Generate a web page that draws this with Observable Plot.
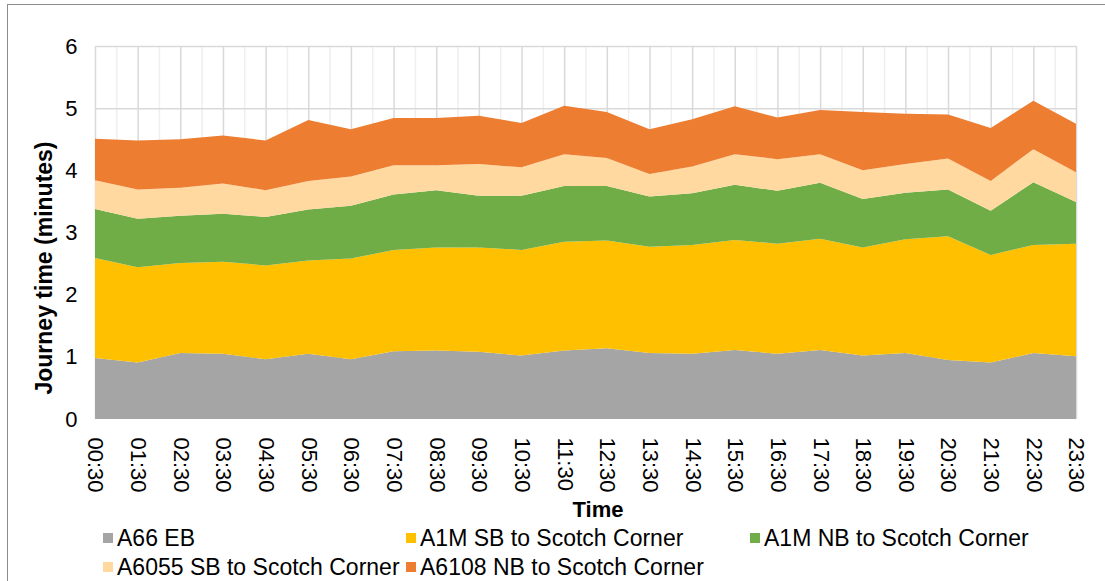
<!DOCTYPE html>
<html>
<head>
<meta charset="utf-8">
<script src="https://cdn.jsdelivr.net/npm/d3@7"></script>
<script src="https://cdn.jsdelivr.net/npm/@observablehq/plot@0.6"></script>
<style>
  html, body { margin: 0; padding: 0; background: #fff; }
  #wrap { position: relative; width: 1105px; height: 581px; overflow: hidden; font-family: "Liberation Sans", Arial, sans-serif; }
  #border { position: absolute; left: 7px; top: 4px; width: 1200px; height: 700px; border-left: 1px solid #8c8c8c; border-top: 1px solid #8c8c8c; }
  #chart { position: absolute; left: 0; top: 0; }
  #chart svg text { font-size: 22px; }
  #chart svg text.ytitle { font-size: 23px; }
  .lg { position: absolute; font-size: 23px; color: #000; white-space: nowrap; line-height: 1; }
  .lg i { position: absolute; left: 0; top: 6px; width: 10px; height: 10px; }
  .lg span { position: absolute; left: 14px; top: 0; }
</style>
</head>
<body>
<div id="wrap">
  <div id="border"></div>
  <div id="chart"></div>
  <div id="legend"></div>
</div>
<script>
const times = ["00:30","01:30","02:30","03:30","04:30","05:30","06:30","07:30","08:30","09:30","10:30","11:30",
               "12:30","13:30","14:30","15:30","16:30","17:30","18:30","19:30","20:30","21:30","22:30","23:30"];

const seriesNames = ["A66 EB", "A1M SB to Scotch Corner", "A1M NB to Scotch Corner", "A6055 SB to Scotch Corner", "A6108 NB to Scotch Corner"];
const seriesColors = ["#A5A5A5", "#FFC000", "#70AD47", "#FFD9A0", "#ED7D31"];

const a66EB      = [0.98,0.91,1.06,1.05,0.96,1.05,0.96,1.09,1.10,1.08,1.02,1.10,1.14,1.06,1.05,1.11,1.05,1.11,1.02,1.06,0.95,0.91,1.06,1.01];
const a1mSB      = [1.61,1.53,1.45,1.48,1.51,1.50,1.62,1.63,1.66,1.68,1.70,1.75,1.73,1.71,1.75,1.77,1.77,1.79,1.74,1.83,1.99,1.73,1.74,1.81];
const a1mNB      = [0.79,0.78,0.76,0.77,0.78,0.82,0.85,0.89,0.92,0.83,0.87,0.90,0.88,0.81,0.83,0.89,0.85,0.90,0.78,0.75,0.75,0.71,1.01,0.67];
const a6055SB    = [0.46,0.47,0.45,0.49,0.43,0.46,0.47,0.47,0.40,0.51,0.46,0.51,0.45,0.36,0.43,0.49,0.51,0.46,0.46,0.46,0.50,0.48,0.53,0.48];
const a6108NB    = [0.67,0.79,0.78,0.77,0.80,0.98,0.76,0.76,0.76,0.78,0.71,0.78,0.74,0.72,0.76,0.77,0.67,0.71,0.94,0.81,0.71,0.85,0.78,0.78];

const yTicks = [0,1,2,3,4,5,6];
const yTitle = "Journey time (minutes)";
const xTitle = "Time";

const seriesValues = [a66EB, a1mSB, a1mNB, a6055SB, a6108NB];
const data = [];
times.forEach((t, i) => {
  seriesNames.forEach((s, k) => data.push({i, time: t, series: s, value: seriesValues[k][i]}));
});

const idx = d3.range(times.length);
const minor = d3.range(0.5, times.length - 1, 1);

const chart = Plot.plot({
  width: 1105,
  height: 526,
  marginLeft: 95,
  marginRight: 29,
  marginTop: 46,
  marginBottom: 107,
  style: { fontFamily: "Liberation Sans, Arial, sans-serif", fontSize: "22px", color: "#000", background: "transparent", overflow: "visible" },
  x: { type: "linear", domain: [0, times.length - 1], axis: null },
  y: { domain: [0, 6], axis: null },
  color: { domain: seriesNames, range: seriesColors },
  marks: [
    Plot.gridX(minor, { stroke: "#efefef", strokeOpacity: 1, strokeWidth: 1.5 }),
    Plot.gridX(idx, { stroke: "#d9d9d9", strokeOpacity: 1, strokeWidth: 1.5 }),
    Plot.gridY(yTicks.slice(1), { stroke: "#d9d9d9", strokeOpacity: 1, strokeWidth: 1.5 }),
    Plot.areaY(data, { x: "i", y: "value", fill: "series", z: "series", order: seriesNames, curve: "linear" }),
    Plot.text(yTicks, { x: () => 0, y: d => d, text: d => String(d), frameAnchor: "left", textAnchor: "end", dx: -18, fill: "#000" }),
    Plot.text(idx, { x: d => d, y: () => 0, text: d => times[d], rotate: 90, textAnchor: "start", dy: 18, fill: "#000" }),
    Plot.text([yTitle], { frameAnchor: "left", dx: -51, dy: 35, rotate: -90, fontWeight: "bold", textAnchor: "middle", lineAnchor: "middle", className: "ytitle" }),
    Plot.text([xTitle], { frameAnchor: "bottom", dx: 12, dy: 90, fontWeight: "bold", textAnchor: "middle", lineAnchor: "middle" })
  ]
});
chart.querySelectorAll(".ytitle text").forEach(t => t.classList.add("ytitle"));
document.getElementById("chart").appendChild(chart);

const legendPos = [[103, 527], [406, 527], [750, 527], [103, 556], [406, 556]];
const legend = document.getElementById("legend");
seriesNames.forEach((s, k) => {
  const el = document.createElement("div");
  el.className = "lg";
  el.style.left = legendPos[k][0] + "px";
  el.style.top = legendPos[k][1] + "px";
  el.innerHTML = `<i style="background:${seriesColors[k]}"></i><span></span>`;
  el.querySelector("span").textContent = s;
  legend.appendChild(el);
});
</script>
</body>
</html>
